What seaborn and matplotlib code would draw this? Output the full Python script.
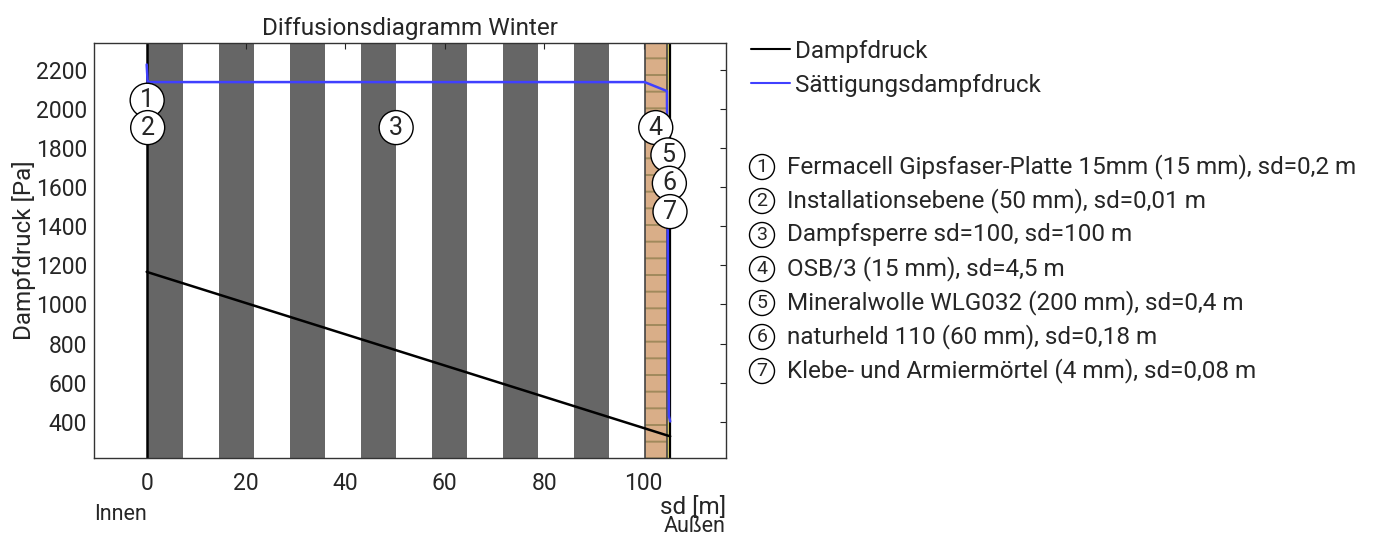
import matplotlib.pyplot as plt
import seaborn as sns
import pandas as pd
import numpy as np
from matplotlib.lines import Line2D

# Schichten (innen -> außen)
layer_names = [
    'Fermacell Gipsfaser-Platte 15mm (15 mm), sd=0,2 m',
    'Installationsebene (50 mm), sd=0,01 m',
    'Dampfsperre sd=100, sd=100 m',
    'OSB/3 (15 mm), sd=4,5 m',
    'Mineralwolle WLG032 (200 mm), sd=0,4 m',
    'naturheld 110 (60 mm), sd=0,18 m',
    'Klebe- und Armiermörtel (4 mm), sd=0,08 m',
]
layer_sd = [0.2, 0.01, 100, 4.5, 0.4, 0.18, 0.08]
layer_colors = ['#1a1a1a', '#ffffff', '#ffffff', '#d9ae88', '#e6dc6e', '#1a1a1a', '#1a1a1a']
label_y = [2045, 1905, 1905, 1905, 1765, 1620, 1475]

# Druckverlauf an den Schichtgrenzen
sd_points = [0, 0.2, 0.21, 100.21, 104.71, 105.11, 105.29, 105.37]
p_dampf = [1167, 1165, 1165, 366, 330, 327, 326, 325]
p_satt = [2228, 2138, 2138, 2138, 2092, 430, 410, 401]

sns.set_style('white')
plt.rcParams['font.family'] = ['Roboto', 'DejaVu Sans']
plt.rcParams['hatch.linewidth'] = 1.4
FS = 17.5

fig = plt.figure(figsize=(13.74, 5.35), dpi=100)
ax = fig.add_axes([94 / 1374, 1 - 458 / 535, (726 - 94) / 1374, (458 - 43) / 535])

bounds = np.concatenate([[0], np.cumsum(layer_sd)])

# Schichten zeichnen
for i, (a, b) in enumerate(zip(bounds[:-1], bounds[1:])):
    ax.axvspan(a, b, color=layer_colors[i], lw=0, zorder=0)
    if i == 2:
        # Dampfsperre als Streifen
        w = (b - a) / 7
        for k in range(7):
            ax.axvspan(a + k * w, a + k * w + w / 2, color='#666666', lw=0, zorder=0.5)
    if i == 3:
        ax.axvspan(a, b, facecolor='none', edgecolor='#a08a5c', hatch='-', lw=0, zorder=0.6)
for x in bounds[3:5]:
    ax.axvline(x, color='#444444', lw=1.2, zorder=1)
ax.axvline(bounds[0], color='black', lw=1.8, zorder=1)
ax.axvline(bounds[-1], color='black', lw=1.6, zorder=1)

df = pd.DataFrame({'sd': sd_points, 'Dampfdruck': p_dampf, 'Sättigungsdampfdruck': p_satt})
sns.lineplot(data=df, x='sd', y='Dampfdruck', color='black', lw=1.8,
             sort=False, estimator=None, ax=ax, zorder=3)
sns.lineplot(data=df, x='sd', y='Sättigungsdampfdruck', color='#4040ff', lw=1.8,
             sort=False, estimator=None, ax=ax, zorder=3)

# Nummern an den Schichten
for i, (a, b) in enumerate(zip(bounds[:-1], bounds[1:])):
    ax.text((a + b) / 2, label_y[i], str(i + 1), ha='center', va='center', fontsize=18, zorder=5,
            bbox=dict(boxstyle='circle,pad=0.2', fc='white', ec='black', lw=1))

ax.set_xlim(-10.6, 116.6)
ax.set_ylim(214, 2338)
ax.set_xticks([0, 20, 40, 60, 80, 100])
ax.set_yticks(range(400, 2201, 200))
ax.tick_params(direction='in', length=4, width=0.8, top=True, right=True,
               labeltop=False, labelright=False, labelsize=16.5, color='#222222')
ax.tick_params(axis='x', pad=10)
ax.tick_params(axis='y', pad=5)
for s in ax.spines.values():
    s.set_color('#333333')
    s.set_linewidth(1)
ax.set_xlabel('')
ax.set_ylabel('Dampfdruck [Pa]', fontsize=FS, labelpad=0)
ax.set_title('Diffusionsdiagramm Winter', fontsize=FS, pad=6)

fig.text(726 / 1374, 1 - 507 / 535, 'sd [m]', ha='right', va='center', fontsize=FS)
fig.text(94 / 1374, 1 - 514 / 535, 'Innen', ha='left', va='center', fontsize=15.5)
fig.text(726 / 1374, 1 - 527 / 535, 'Außen', ha='right', va='center', fontsize=15.5)

handles = [Line2D([], [], color='black', lw=1.5), Line2D([], [], color='#4040ff', lw=1.5)]
ax.legend(handles, ['Dampfdruck', 'Sättigungsdampfdruck'], loc='upper left',
          bbox_to_anchor=(751 / 1374, 1 - 40 / 535), bbox_transform=fig.transFigure,
          frameon=False, handlelength=1.6, handletextpad=0.2, borderpad=0, borderaxespad=0,
          labelspacing=0.45, fontsize=FS)

# Schichtliste rechts
for i, name in enumerate(layer_names):
    y = 1 - (167 + i * 34) / 535
    fig.text(762 / 1374, y, str(i + 1), ha='center', va='center', fontsize=14,
             bbox=dict(boxstyle='circle,pad=0.18', fc='white', ec='black', lw=1))
    fig.text(787 / 1374, y, name, ha='left', va='center', fontsize=FS)

plt.savefig('out.png', dpi=100)
